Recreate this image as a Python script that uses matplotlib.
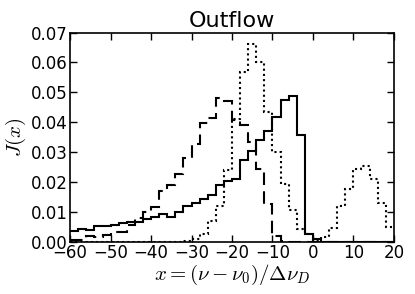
import numpy as np
import matplotlib
matplotlib.use('Agg')
import matplotlib.pyplot as plt

plt.rcParams['mathtext.fontset'] = 'cm'
plt.rcParams['font.family'] = 'DejaVu Sans'

# bin edges, 2 units wide from -60 to 20
edges = np.arange(-60, 22, 2)

# solid profile
solid = [0.0037, 0.0042, 0.0039, 0.0051, 0.0054, 0.0057, 0.0061, 0.0065, 0.0067, 0.0075,
         0.0081, 0.0093, 0.0082, 0.0100, 0.0119, 0.0130, 0.0142, 0.0156, 0.0189, 0.0203,
         0.0211, 0.0272, 0.0303, 0.0341, 0.0372, 0.0419, 0.0476, 0.0489, 0.0356, 0.0026,
         0.0010, 0, 0, 0, 0, 0, 0, 0, 0, 0]

# dashed profile
dashed = [0.0005, 0.0005, 0.0019, 0.0015, 0.0022, 0.0033, 0.0033, 0.0056, 0.0078, 0.0098,
          0.0115, 0.0170, 0.0191, 0.0226, 0.0281, 0.0328, 0.0397, 0.0413, 0.0481, 0.0472,
          0.0406, 0.0390, 0.0333, 0.0242, 0.0127, 0.0018, 0.0003, 0, 0, 0,
          0, 0, 0, 0, 0, 0, 0, 0, 0, 0]

# dotted profile
dotted = [0, 0, 0, 0, 0, 0, 0, 0, 0, 0,
          0, 0, 0, 0, 0.0002, 0.0008, 0.0026, 0.0070, 0.0119, 0.0240,
          0.0411, 0.0567, 0.0663, 0.0603, 0.0433, 0.0300, 0.0192, 0.0106, 0.0041, 0.0026,
          0.0005, 0.0015, 0.0047, 0.0120, 0.0178, 0.0245, 0.0252, 0.0209, 0.0128, 0.0048]

fig = plt.figure(figsize=(4.15, 2.94), dpi=100)
ax = fig.add_axes([0.169, 0.178, 0.780, 0.711])

ax.stairs(solid, edges, color='k', lw=1.5, baseline=None)
ax.stairs(dashed, edges, color='k', lw=1.5, baseline=None, linestyle=(0, (6, 3)))
ax.stairs(dotted, edges, color='k', lw=1.5, baseline=None, linestyle=(0, (1, 1.5)))

ax.set_xlim(-60, 20)
ax.set_ylim(0, 0.07)
ax.set_xticks(np.arange(-60, 21, 10))
ax.set_yticks(np.arange(0, 0.071, 0.01))
ax.set_yticklabels(['%.2f' % v for v in np.arange(0, 0.071, 0.01)])
ax.tick_params(direction='in', top=True, right=True, length=5, width=1, labelsize=12, pad=2)
for s in ax.spines.values():
    s.set_linewidth(1.2)

ax.set_title('Outflow', fontsize=16, pad=4)
ax.set_xlabel(r'$x=(\nu-\nu_0)/\Delta\nu_D$', fontsize=15, labelpad=0)
ax.set_ylabel(r'$J(x)$', fontsize=15, labelpad=2)

fig.savefig('out.png', dpi=100)
